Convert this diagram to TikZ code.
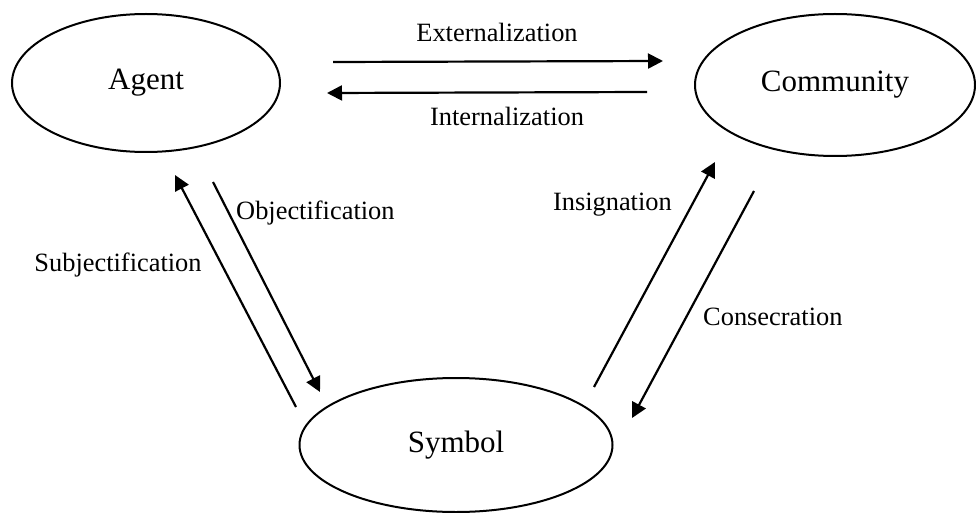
\documentclass[tikz,border=0pt]{standalone}
\usepackage{fontspec}
\setmainfont{Liberation Serif}
\usetikzlibrary{shapes.geometric,arrows.meta}
\begin{document}
\begin{tikzpicture}[x=1pt,y=-1pt,
  ent/.style={ellipse,draw,line width=2pt,inner sep=0pt,font=\fontsize{31}{36}\selectfont},
  lab/.style={font=\fontsize{26.4}{30}\selectfont,inner sep=0pt},
  conn/.style={line width=2.2pt,-{Triangle[length=15pt,width=15pt]}}]
\useasboundingbox (0,0) rectangle (976,513);
\node[ent,minimum width=268pt,minimum height=138pt] (agent) at (146,83) {Agent};
\node[ent,minimum width=280pt,minimum height=142pt] (comm) at (835,85) {Community};
\node[ent,minimum width=313pt,minimum height=134pt] (sym) at (456,445) {Symbol};
% connector end points
\coordinate (ext1) at (333,62);
\coordinate (ext2) at (663,61);
\coordinate (int1) at (647,92);
\coordinate (int2) at (327,93);
\coordinate (sub1) at (296,407);
\coordinate (sub2) at (175,175);
\coordinate (obj1) at (213,182);
\coordinate (obj2) at (320,392);
\coordinate (ins1) at (594,387);
\coordinate (ins2) at (715,162);
\coordinate (con1) at (754,191);
\coordinate (con2) at (632,418);
\draw[conn] (ext1) -- (ext2);
\draw[conn] (int1) -- (int2);
\draw[conn] (sub1) -- (sub2);
\draw[conn] (obj1) -- (obj2);
\draw[conn] (ins1) -- (ins2);
\draw[conn] (con1) -- (con2);
\node[lab] (lext) at (497,32) {Externalization};
\node[lab] (lint) at (507,116) {Internalization};
\node[lab] (lsub) at (118,265) {Subjectification};
\node[lab,anchor=west] (lobj) at (236,213) {Objectification};
\node[lab,anchor=east] (lins) at (672,205) {Insignation};
\node[lab,anchor=west] (lcon) at (703,317) {Consecration};
\end{tikzpicture}
\end{document}
